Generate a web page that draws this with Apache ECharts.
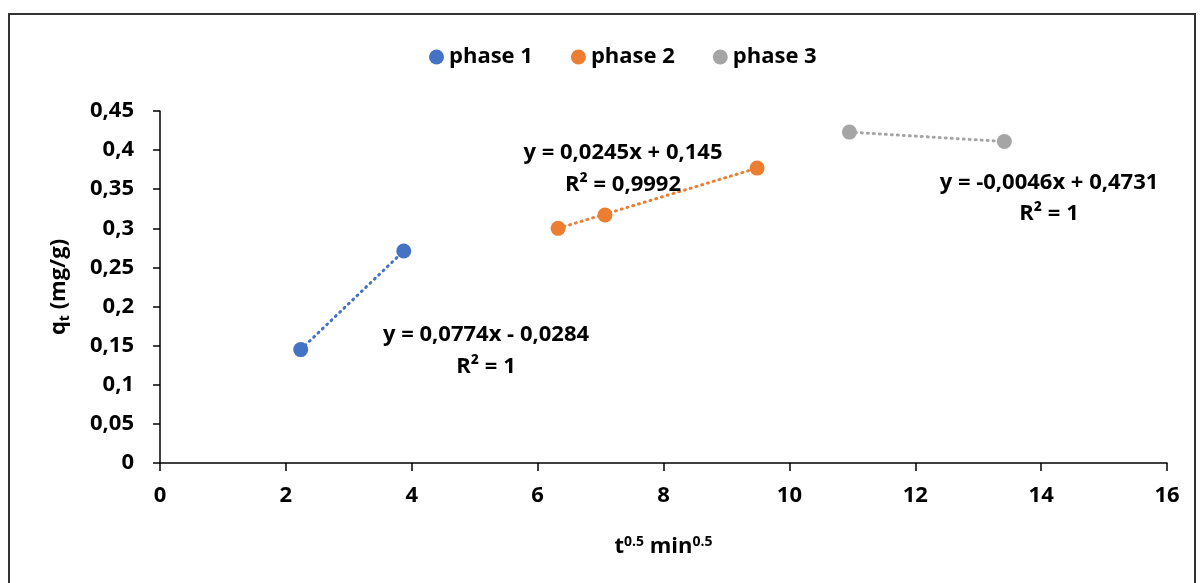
<!DOCTYPE html>
<html><head><meta charset="utf-8">
<script src="https://cdn.jsdelivr.net/npm/echarts@6/dist/echarts.min.js"></script>
<style>html,body{margin:0;padding:0;background:#fff}#c{width:1200px;height:583px}</style>
</head><body><div id="c"></div>
<script>
var phase1 = [[2.236, 0.145], [3.873, 0.271]];
var phase2 = [[6.325, 0.300], [7.071, 0.317], [9.487, 0.377]];
var phase3 = [[10.954, 0.423], [13.416, 0.411]];
var trend1 = [[2.236, 0.145], [3.873, 0.271]];
var trend2 = [[6.325, 0.300], [9.487, 0.377]];
var trend3 = [[10.954, 0.423], [13.416, 0.411]];
var eq1 = ['y = 0,0774x - 0,0284', 'R² = 1'];
var eq2 = ['y = 0,0245x + 0,145', 'R² = 0,9992'];
var eq3 = ['y = -0,0046x + 0,4731', 'R² = 1'];
var colors = ['#4472C4', '#ED7D31', '#A5A5A5'];
var FONT = 'Open Sans';
var FS = 22;

var chart = echarts.init(document.getElementById('c'));
function trendSeries(d, c) {
  return {type: 'line', data: d, symbol: 'none', silent: true, z: 1,
    lineStyle: {color: c, width: 3, type: [1, 5], cap: 'round'}, legendHoverLink: false};
}
function eqText(lines, cx, y1, y2) {
  return [
    {type: 'text', style: {text: lines[0], x: cx, y: y1, textAlign: 'center', textVerticalAlign: 'middle', font: 'bold ' + FS + 'px "' + FONT + '"', fill: '#000'}, z: 10},
    {type: 'text', style: {text: lines[1], x: cx, y: y2, textAlign: 'center', textVerticalAlign: 'middle', font: 'bold ' + FS + 'px "' + FONT + '"', fill: '#000'}, z: 10}
  ];
}
var option = {
  animation: false,
  textStyle: {fontFamily: FONT},
  color: colors,
  legend: {
    top: 41, left: 424, itemGap: 38, itemWidth: 15, itemHeight: 15,
    data: [{name: 'phase 1', icon: 'circle'}, {name: 'phase 2', icon: 'circle'}, {name: 'phase 3', icon: 'circle'}],
    textStyle: {fontSize: FS, fontWeight: 'bold', color: '#000', fontFamily: FONT}
  },
  grid: {left: 160, right: 33, top: 111, bottom: 120},
  xAxis: {
    type: 'value', min: 0, max: 16, interval: 2,
    axisLine: {lineStyle: {color: '#000', width: 1.5}},
    axisTick: {show: true, length: 8, lineStyle: {color: '#000', width: 1.5}},
    splitLine: {show: false},
    axisLabel: {fontSize: FS, fontWeight: 'bold', color: '#000', margin: 22, fontFamily: FONT},
    name: '{b|t}{s|0.5}{b| min}{s|0.5}', nameLocation: 'middle', nameGap: 72,
    nameTextStyle: {rich: {
      b: {fontSize: FS, fontWeight: 'bold', color: '#000', fontFamily: FONT},
      s: {fontSize: 14, fontWeight: 'bold', color: '#000', fontFamily: FONT, verticalAlign: 'top', padding: [0,0,9,0]}
    }}
  },
  yAxis: {
    type: 'value', min: 0, max: 0.45, interval: 0.05,
    axisLine: {show: true, lineStyle: {color: '#000', width: 1.5}},
    axisTick: {show: true, length: 7, lineStyle: {color: '#000', width: 1.5}},
    splitLine: {show: false},
    axisLabel: {fontSize: FS, fontWeight: 'bold', color: '#000', margin: 26, fontFamily: FONT,
      formatter: function (v) { return String(+v.toFixed(2)).replace('.', ','); }},
    name: '{b|q}{s|t}{b| (mg/g)}', nameLocation: 'middle', nameGap: 88,
    nameTextStyle: {rich: {
      b: {fontSize: FS, fontWeight: 'bold', color: '#000', fontFamily: FONT},
      s: {fontSize: 14, fontWeight: 'bold', color: '#000', fontFamily: FONT, padding: [12,0,0,0]}
    }}
  },
  series: [
    {name: 'phase 1', type: 'scatter', data: phase1, symbolSize: 15, itemStyle: {color: colors[0], opacity: 1}, z: 3},
    {name: 'phase 2', type: 'scatter', data: phase2, symbolSize: 15, itemStyle: {color: colors[1], opacity: 1}, z: 3},
    {name: 'phase 3', type: 'scatter', data: phase3, symbolSize: 15, itemStyle: {color: colors[2], opacity: 1}, z: 3},
    trendSeries(trend1, colors[0]),
    trendSeries(trend2, colors[1]),
    trendSeries(trend3, colors[2])
  ],
  graphic: [
    {type: 'rect', shape: {x: 9, y: 14, width: 1186, height: 620}, style: {fill: 'none', stroke: '#333', lineWidth: 2}, z: 0}
  ].concat(eqText(eq1, 486, 335, 367)).concat(eqText(eq2, 623, 153, 185)).concat(eqText(eq3, 1049, 183, 214))
};
chart.setOption(option);
</script></body></html>
